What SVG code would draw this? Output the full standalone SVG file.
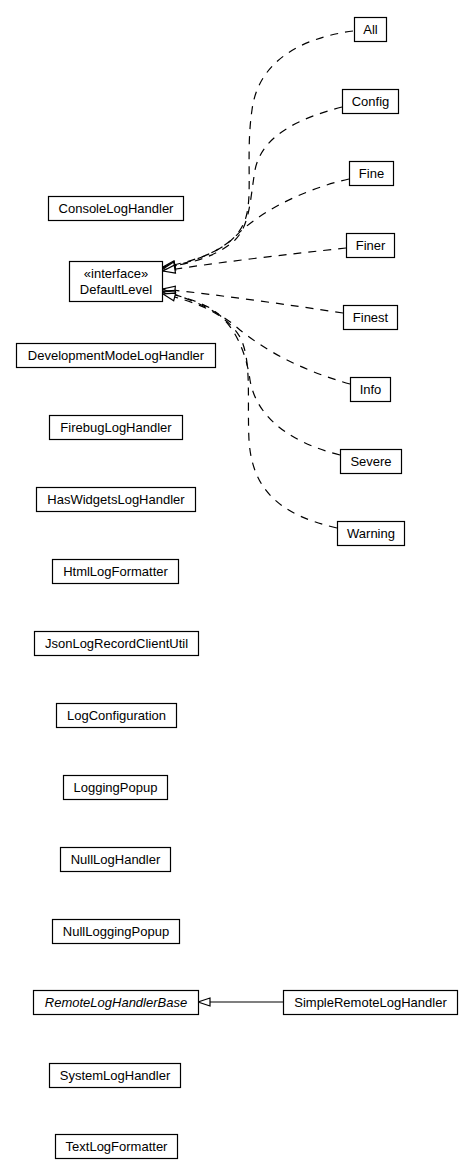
<svg xmlns="http://www.w3.org/2000/svg" width="473" height="1176" viewBox="0 0 473 1176">
<style>
.box{fill:#fff;stroke:#000;stroke-width:1.2}
.t{font-family:"Liberation Sans",Arial,sans-serif;font-size:13px;fill:#000;text-anchor:middle}
.i{font-style:italic}
.dep{fill:none;stroke:#000;stroke-width:1.2;stroke-dasharray:8,7;marker-end:url(#tri)}
.gen{fill:none;stroke:#000;stroke-width:1.2;marker-end:url(#tri)}
</style>
<defs>
<marker id="tri" viewBox="0 -5 14 10" refX="13" refY="0" markerWidth="14" markerHeight="10" markerUnits="userSpaceOnUse" orient="auto">
<path d="M1,-4 L13,0 L1,4 Z" fill="#fff" stroke="#000" stroke-width="1.2" stroke-dasharray="none"/>
</marker>
</defs>
<rect width="473" height="1176" fill="#fff"/>
<g id="connectors">
<path class="dep" d="M353,31 C300,38 258,62 252,110 C246,150 252,190 247,213 C240,248 200,260 163,267"/>
<path class="dep" d="M342,107 C300,118 262,135 255,170 C250,200 250,225 235,240 C215,258 190,263 163,268"/>
<path class="dep" d="M349,179 C300,190 255,215 235,237 C215,255 190,262 163,269"/>
<path class="dep" d="M346,248 C290,254 220,262 163,271"/>
<path class="dep" d="M343,313 C290,305 220,295 163,289"/>
<path class="dep" d="M350,384 C300,370 265,350 240,330 C220,312 195,300 163,291"/>
<path class="dep" d="M340,455 C280,440 255,410 250,380 C245,345 230,320 210,308 C195,300 180,296 163,292"/>
<path class="dep" d="M337,528 C280,515 252,490 249,440 C247,400 252,360 240,337 C225,312 195,302 163,294"/>
<path class="gen" d="M283,1002 L198,1002"/>
</g>
<g id="All"><rect class="box" x="354.5" y="17.5" width="32" height="24"/><text class="t" x="370.5" y="34">All</text></g>
<g id="Config"><rect class="box" x="342.5" y="89.5" width="56" height="24"/><text class="t" x="370.5" y="106">Config</text></g>
<g id="Fine"><rect class="box" x="349.5" y="161.5" width="44" height="24"/><text class="t" x="371.5" y="178">Fine</text></g>
<g id="Finer"><rect class="box" x="346.5" y="233.5" width="48" height="24"/><text class="t" x="370.5" y="250">Finer</text></g>
<g id="Finest"><rect class="box" x="343.5" y="305.5" width="54" height="24"/><text class="t" x="370.5" y="322">Finest</text></g>
<g id="Info"><rect class="box" x="350.5" y="377.5" width="40" height="24"/><text class="t" x="370.5" y="394">Info</text></g>
<g id="Severe"><rect class="box" x="340.5" y="449.5" width="61" height="24"/><text class="t" x="371" y="466">Severe</text></g>
<g id="Warning"><rect class="box" x="337.5" y="521.5" width="67" height="24"/><text class="t" x="371" y="538">Warning</text></g>
<g id="ConsoleLogHandler"><rect class="box" x="48.5" y="196.5" width="135" height="24"/><text class="t" x="116" y="213">ConsoleLogHandler</text></g>
<g id="DefaultLevel"><rect class="box" x="69.5" y="261.5" width="93" height="40"/><text class="t" x="116" y="278">«interface»</text><text class="t" x="116" y="294">DefaultLevel</text></g>
<g id="DevelopmentModeLogHandler"><rect class="box" x="16.5" y="343.5" width="199" height="24"/><text class="t" x="116" y="360">DevelopmentModeLogHandler</text></g>
<g id="FirebugLogHandler"><rect class="box" x="49.5" y="415.5" width="133" height="24"/><text class="t" x="116" y="432">FirebugLogHandler</text></g>
<g id="HasWidgetsLogHandler"><rect class="box" x="36.5" y="487.5" width="159" height="24"/><text class="t" x="116" y="504">HasWidgetsLogHandler</text></g>
<g id="HtmlLogFormatter"><rect class="box" x="52.5" y="559.5" width="126" height="24"/><text class="t" x="115.5" y="576">HtmlLogFormatter</text></g>
<g id="JsonLogRecordClientUtil"><rect class="box" x="34.5" y="631.5" width="164" height="24"/><text class="t" x="116.5" y="648">JsonLogRecordClientUtil</text></g>
<g id="LogConfiguration"><rect class="box" x="56.5" y="703.5" width="120" height="24"/><text class="t" x="116.5" y="720">LogConfiguration</text></g>
<g id="LoggingPopup"><rect class="box" x="63.5" y="775.5" width="104" height="24"/><text class="t" x="115.5" y="792">LoggingPopup</text></g>
<g id="NullLogHandler"><rect class="box" x="60.5" y="847.5" width="110" height="24"/><text class="t" x="115.5" y="864">NullLogHandler</text></g>
<g id="NullLoggingPopup"><rect class="box" x="52.5" y="919.5" width="127" height="24"/><text class="t" x="116" y="936">NullLoggingPopup</text></g>
<g id="RemoteLogHandlerBase"><rect class="box" x="33.5" y="990.5" width="165" height="24"/><text class="t i" x="116" y="1007">RemoteLogHandlerBase</text></g>
<g id="SimpleRemoteLogHandler"><rect class="box" x="283.5" y="990.5" width="174" height="24"/><text class="t" x="370.5" y="1007">SimpleRemoteLogHandler</text></g>
<g id="SystemLogHandler"><rect class="box" x="49.5" y="1063.5" width="131" height="24"/><text class="t" x="115" y="1080">SystemLogHandler</text></g>
<g id="TextLogFormatter"><rect class="box" x="55.5" y="1134.5" width="122" height="24"/><text class="t" x="116.5" y="1151">TextLogFormatter</text></g>
</svg>
